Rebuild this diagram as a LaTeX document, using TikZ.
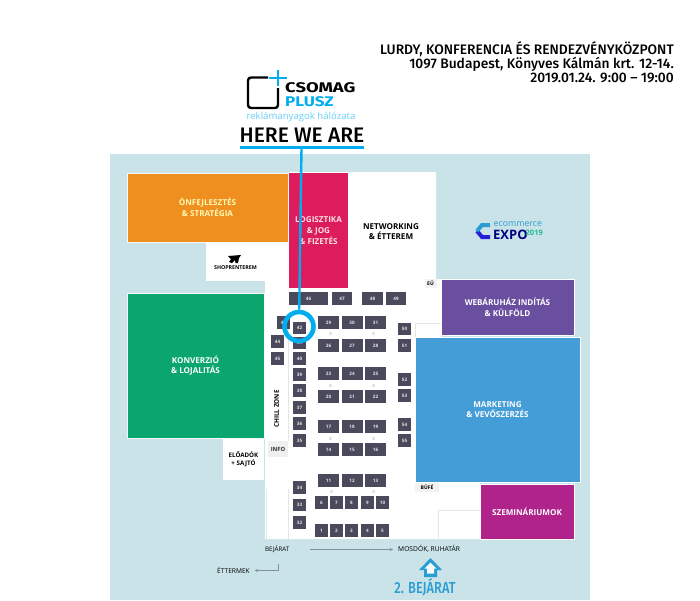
\documentclass[tikz,border=0pt]{standalone}
\usepackage{fontspec}
\setmainfont{Open Sans}
\newfontfamily\headfont[UprightFont=* Medium]{Fira Sans}
\newfontfamily\logofont[UprightFont=* Bold]{Fira Sans}
\usetikzlibrary{positioning, arrows.meta, calc}
\definecolor{mapBack}{HTML}{C9E3E8}
\definecolor{colorOrange}{HTML}{EF8F1F}
\definecolor{colorRed}{HTML}{DC1C5C}
\definecolor{colorGreen}{HTML}{0AA66E}
\definecolor{colorPurple}{HTML}{6A4EA0}
\definecolor{colorBlue}{HTML}{459DD7}
\definecolor{colorMagenta}{HTML}{B0238B}
\definecolor{boothGrey}{HTML}{4A4A5C}
\definecolor{markBlue}{HTML}{00ADEF}
\definecolor{entryBlue}{HTML}{2A9DD3}
\definecolor{lineGrey}{HTML}{E4E6E6}
\definecolor{arrowGrey}{HTML}{7F8E99}
\tikzstyle{room} =[inner sep=0pt, outer sep=0pt, align=center, font=\fontsize{8.1}{10.8}\selectfont\bfseries]
\tikzstyle{coloured} =[room, draw=white!80!mapBack, line width=0.8pt]
\tikzstyle{booth} =[inner sep=0pt, fill=boothGrey, text=white!85!boothGrey, font=\fontsize{4.6}{5}\selectfont\bfseries, minimum height=12.6pt]
\tikzstyle{plain} =[inner sep=0pt, align=center, text=black]

\begin{document}
\begin{tikzpicture}[x=1pt, y=-1pt]
\useasboundingbox (0,0) rectangle (700,600);

\fill[mapBack] (110,154) rectangle (590,600);
\fill[white] (288,172) -- (436,172) -- (436,279) -- (441,279) -- (441,337) -- (415,337) -- (415,482) -- (480,482) -- (480,539) -- (265,539) -- (265,243) -- (288,243) -- cycle;

\node (orange) [coloured, fill=colorOrange, text=yellow!30!white, minimum width=161pt, minimum height=69pt] at (207.5,207.5) {ÖNFEJLESZTÉS\\\& STRATÉGIA};
\node (red) [coloured, draw=none, fill=colorRed, text=red!12!white, minimum width=59pt, minimum height=115pt] at (318.5,230.5) {LOGISZTIKA\\\& JOG\\\& FIZETÉS};
\node (networking) [room, text=black] at (391,231.5) {NETWORKING\\\& ÉTTEREM};
\node (shop) [room, fill=white, minimum width=59pt, minimum height=38pt] at (235.5,262) {};
\node (shopLabel) [plain, font=\fontsize{5.3}{6}\selectfont\bfseries] at (235.5,268) {SHOPRENTEREM};
\node (green) [coloured, fill=colorGreen, text=white, minimum width=137pt, minimum height=145pt] at (195.5,365.5) {KONVERZIÓ\\\& LOJALITÁS};
\node (purple) [coloured, draw=white, fill=colorPurple, text=white, minimum width=133pt, minimum height=56pt] at (507.5,307) {WEBÁRUHÁZ INDÍTÁS\\\& KÜLFÖLD};
\node (blue) [coloured, draw=white, fill=colorBlue, text=white, minimum width=165pt, minimum height=145pt] at (497.5,409.5) {MARKETING\\\& VEVŐSZERZÉS};
\node (magenta) [coloured, draw=white, fill=colorMagenta, text=white, minimum width=94pt, minimum height=55pt] at (527,511.5) {SZEMINÁRIUMOK};
\node (eloadok) [room, fill=white, text=black, minimum width=41pt, minimum height=41pt, font=\fontsize{6.2}{8.2}\selectfont\bfseries] at (243.5,459) {ELŐADÓK\\+ SAJTÓ};
\node (info) [room, fill=black!6, text=black!80, minimum width=20pt, minimum height=16pt, font=\fontsize{5.8}{6}\selectfont\bfseries] at (278,449) {INFO};
\node (bufe) [room, fill=black!5, text=black, minimum width=24pt, minimum height=9pt, font=\fontsize{5}{5}\selectfont\bfseries] at (427,487.5) {BÜFÉ};
\node (eu) [room, fill=black!5, text=black, minimum width=12pt, minimum height=9pt, font=\fontsize{5}{5}\selectfont\bfseries] at (430.5,283.5) {EÜ};
\node (chill) [plain, rotate=90, font=\fontsize{6.4}{7}\selectfont\bfseries] at (276.5,409) {CHILL ZONE};

%thin walls
\draw[lineGrey, line width=0.8pt] (288,328) -- (288,441);
\draw[lineGrey, line width=0.8pt] (266,489) -- (266,539);
\draw[lineGrey, line width=0.8pt] (288,489) -- (288,539);
\draw[lineGrey, line width=0.8pt] (441,323) -- (415,323) -- (415,337);
\draw[lineGrey, line width=0.8pt] (480,510) -- (438,510) -- (438,539);

%small pillars
\foreach \px/\py in {330/333, 373/333, 330/385, 373/385, 330/438, 373/438, 331/491, 373/491}
	\fill[lineGrey] (\px-1.5,\py-1.5) rectangle (\px+1.5,\py+1.5);

%booths
\foreach \n/\bx/\by/\bw in {
	46/308.5/298.5/39, 47/342/298.5/20.5, 48/372.5/298.5/20.5, 49/396/298.5/20.5,
	43/283.5/322.5/13, 42/299.5/328/13, 41/299.5/343/13, 40/299.5/358.5/13,
	39/299.5/374.5/13, 38/299.5/390.5/13, 37/299.5/407.5/13, 36/299.5/423.5/13, 35/299.5/440.5/13,
	44/277.5/341.5/13, 45/277.5/358.5/13,
	29/328.5/322.5/21, 30/352/322.5/21, 31/375.5/322.5/21,
	26/328.5/345.5/21, 27/352/345.5/21, 28/375.5/345.5/21,
	23/328.5/373.5/21, 24/352/373.5/21, 25/375.5/373.5/21,
	20/328.5/396.5/21, 21/352/396.5/21, 22/375.5/396.5/21,
	17/328.5/426.5/21, 18/352/426.5/21, 19/375.5/426.5/21,
	14/328.5/449.5/21, 15/352/449.5/21, 16/375.5/449.5/21,
	11/328.5/480.5/21, 12/352/480.5/21, 13/375.5/480.5/21,
	6/321.5/502.5/13, 7/336.5/502.5/13, 8/351.5/502.5/13, 9/367.5/502.5/13, 10/382.5/502.5/13,
	1/321.5/530.5/13, 2/336.5/530.5/13, 3/351.5/530.5/13, 4/367.5/530.5/13, 5/382.5/530.5/13,
	34/299.5/487.5/13, 33/299.5/505/13, 32/299.5/522.5/13,
	50/404.5/329/13, 51/404.5/345.5/13, 52/404.5/379.5/13, 53/404.5/395.5/13, 54/404.5/424.5/13, 55/404.5/440.5/13}
	\node (booth\n) [booth, minimum width=\bw pt] at (\bx,\by) {\n};

%shoprenter sign
\fill[black] (228,256) -- (241,255) -- (239,258) -- (238,263) -- (235.5,263) -- (235,260) -- (232,263) -- (229,262) -- (231,259) -- cycle;

%expo logo
\draw[colorPurple!40!blue, line width=4pt] (490,237) -- (482,237) -- (477,231);
\draw[entryBlue, line width=4pt] (477,231) -- (482,225) -- (490,225);
\node (expoTop) [plain, anchor=west, text=entryBlue, font=\fontsize{8.8}{10}\selectfont] at (493.5,224.5) {ecommerce};
\node (expoMain) [plain, anchor=west, text=blue!50!black, font=\fontsize{13}{13}\selectfont\bfseries] at (493,235) {EXPO};
\node (expoYear) [plain, anchor=west, text=entryBlue!70!green, font=\fontsize{7.5}{8}\selectfont\bfseries] at (525.5,232.5) {2019};

%bottom labels
\node (bejarat) [plain, anchor=west, font=\fontsize{6.2}{7}\selectfont] at (265,549) {BEJÁRAT};
\node (mosdok) [plain, anchor=west, font=\fontsize{6.7}{7}\selectfont] at (398,549) {MOSDÓK, RUHATÁR};
\node (ettermek) [plain, anchor=west, font=\fontsize{6.6}{7}\selectfont] at (217,570.5) {ÉTTERMEK};
\coordinate (passStart) at (310,549.5);
\coordinate (foodStart) at (278,564);
\draw[-{Stealth[length=3pt, width=3pt]}, arrowGrey, line width=0.6pt, shorten >=5pt] (passStart) -- (passStart -| mosdok.west);
\draw[-{Stealth[length=3pt, width=3pt]}, arrowGrey, line width=0.6pt, shorten >=5pt] (foodStart) |- (ettermek.east);

%entrance
\fill[entryBlue] (430.5,558) -- (442,570) -- (437,570) -- (437,577) -- (424,577) -- (424,570) -- (419,570) -- cycle;
\fill[white!85!mapBack] (430.5,562.5) -- (436.5,568.5) -- (434,568.5) -- (434,573.5) -- (427,573.5) -- (427,568.5) -- (424.5,568.5) -- cycle;
\node (entrance) [plain, text=entryBlue, font=\headfont\fontsize{16}{17}\selectfont] at (425,587.5) {\scalebox{0.8}[1]{2. BEJÁRAT}};

%header
\node (address) [plain, anchor=north east, align=right, font=\headfont\fontsize{13.8}{13.7}\selectfont] at (674,41.5) {LURDY, KONFERENCIA ÉS RENDEZVÉNYKÖZPONT\\1097 Budapest, Könyves Kálmán krt. 12-14.\\2019.01.24. 9:00 – 19:00};

%logo
\draw[black, line width=2.4pt, rounded corners=3pt] (268,77.5) -- (248,77.5) -- (248,108) -- (278,108) -- (278,88);
\draw[markBlue, line width=2.6pt] (278,70) -- (278,86);
\draw[markBlue, line width=2.6pt] (269,78) -- (287,78);
\node (csomag) [plain, anchor=west, font=\logofont\fontsize{14}{14}\selectfont] at (285,88) {\scalebox{1.31}[1]{CSOMAG}};
\node (plusz) [plain, anchor=west, text=markBlue, font=\logofont\fontsize{14}{14}\selectfont] at (285,102) {\scalebox{1.22}[1]{PLUSZ}};
\node (slogan) [plain, text=markBlue!60!white, font=\fontsize{9.6}{10}\selectfont] at (301,117) {reklámanyagok hálózata};

%marker
\node (hereLabel) [plain, text=black, font=\headfont\fontsize{21}{22}\selectfont] at (302,135.5) {HERE WE ARE};
\coordinate (hereLine) at (301.5,147.5);
\draw[markBlue, line width=3pt] (240,147.5) -- (364,147.5);
\node (hereMark) [circle, draw=markBlue, line width=4.6pt, minimum size=29pt, inner sep=0pt] at (299,326.5) {};
\draw[markBlue, line width=2.4pt] (hereLine) -- (hereMark);
\end{tikzpicture}
\end{document}
